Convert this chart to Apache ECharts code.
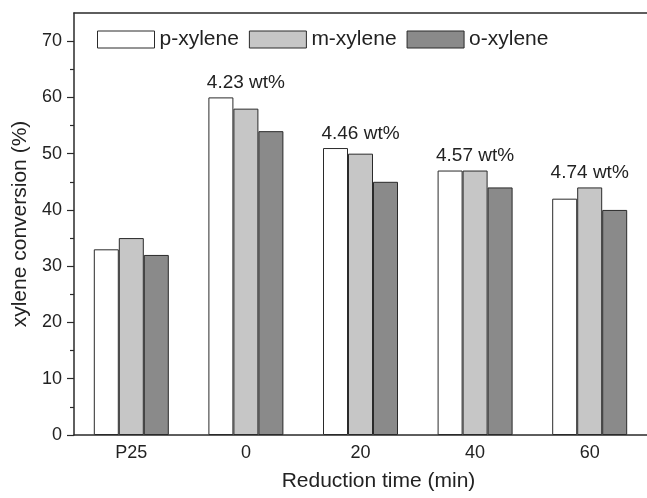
<!DOCTYPE html>
<html>
<head>
<meta charset="utf-8">
<script src="https://cdn.jsdelivr.net/npm/echarts@6/dist/echarts.min.js"></script>
<style>
html,body{margin:0;padding:0;background:#fff;}
#chart{width:647px;height:498px;}
</style>
</head>
<body>
<div id="chart"></div>
<script>
const categories = ['P25', '0', '20', '40', '60'];
const pXylene = [33, 60, 51, 47, 42];
const mXylene = [35, 58, 50, 47, 44];
const oXylene = [32, 54, 45, 44, 40];
const loadingLabels = ['', '4.23 wt%', '4.46 wt%', '4.57 wt%', '4.74 wt%'];
const yMajorTicks = [0, 10, 20, 30, 40, 50, 60, 70];
const yMinorTicks = [5, 15, 25, 35, 45, 55, 65];

const FONT = '"Liberation Sans", Arial, sans-serif';
const TXT = '#222';
const EDGE = '#2a2a2a';

const annotData = categories.map((c, i) => {
  if (!loadingLabels[i]) return [c, '-'];
  return [c, Math.max(pXylene[i], mXylene[i], oXylene[i]), loadingLabels[i]];
});

const chart = echarts.init(document.getElementById('chart'), null, {renderer: 'canvas'});
chart.setOption({
  animation: false,
  backgroundColor: '#fff',
  textStyle: {fontFamily: FONT},
  grid: {left: 74, right: 0, top: 13, bottom: 63},
  legend: {
    data: ['p-xylene', 'm-xylene', 'o-xylene'],
    left: 92, top: 24,
    itemWidth: 57, itemHeight: 17, itemGap: 10,
    icon: 'rect',
    itemStyle: {borderColor: EDGE, borderWidth: 1},
    textStyle: {fontSize: 21, color: TXT, fontFamily: FONT}
  },
  xAxis: [{
    type: 'category',
    data: categories,
    position: 'bottom',
    axisLine: {lineStyle: {color: EDGE, width: 1.5}},
    axisTick: {show: false},
    axisLabel: {fontSize: 18, color: TXT, margin: 9, fontFamily: FONT},
    name: 'Reduction time (min)',
    nameLocation: 'middle',
    nameGap: 36,
    nameTextStyle: {fontSize: 21, color: TXT, padding: [0, 0, 0, 36], fontFamily: FONT}
  }, {
    type: 'category',
    data: categories,
    position: 'top',
    axisLine: {show: true, onZero: false, lineStyle: {color: EDGE, width: 1.5}},
    axisTick: {show: false},
    axisLabel: {show: false}
  }],
  yAxis: [{
    type: 'value',
    min: 0, max: 75,
    position: 'left',
    axisLine: {show: true, onZero: false, lineStyle: {color: EDGE, width: 1.5}},
    axisTick: {show: true, length: 7, customValues: yMajorTicks, lineStyle: {color: EDGE, width: 1.2}},
    axisLabel: {fontSize: 18, color: TXT, margin: 12, customValues: yMajorTicks, fontFamily: FONT},
    splitLine: {show: false},
    name: 'xylene conversion (%)',
    nameLocation: 'middle',
    nameGap: 41,
    nameTextStyle: {fontSize: 21, color: TXT, fontFamily: FONT}
  }, {
    type: 'value',
    min: 0, max: 75,
    position: 'left',
    axisLine: {show: false},
    axisTick: {show: true, length: 4, customValues: yMinorTicks, lineStyle: {color: EDGE, width: 1.2}},
    axisLabel: {show: false},
    splitLine: {show: false}
  }],
  series: [{
    name: 'p-xylene', type: 'bar', data: pXylene,
    barWidth: 25, barGap: '0%',
    itemStyle: {color: '#ffffff', borderColor: EDGE, borderWidth: 1}
  }, {
    name: 'm-xylene', type: 'bar', data: mXylene,
    barWidth: 25, barGap: '0%',
    itemStyle: {color: '#c6c6c6', borderColor: EDGE, borderWidth: 1}
  }, {
    name: 'o-xylene', type: 'bar', data: oXylene,
    barWidth: 25, barGap: '0%',
    itemStyle: {color: '#8a8a8a', borderColor: EDGE, borderWidth: 1}
  }, {
    name: 'loading', type: 'scatter', data: annotData,
    symbolSize: 0, silent: true,
    itemStyle: {opacity: 1},
    label: {
      show: true, position: 'top', distance: 5,
      fontSize: 19, color: TXT, fontFamily: FONT,
      formatter: p => p.data[2] || ''
    }
  }]
});
</script>
</body>
</html>
